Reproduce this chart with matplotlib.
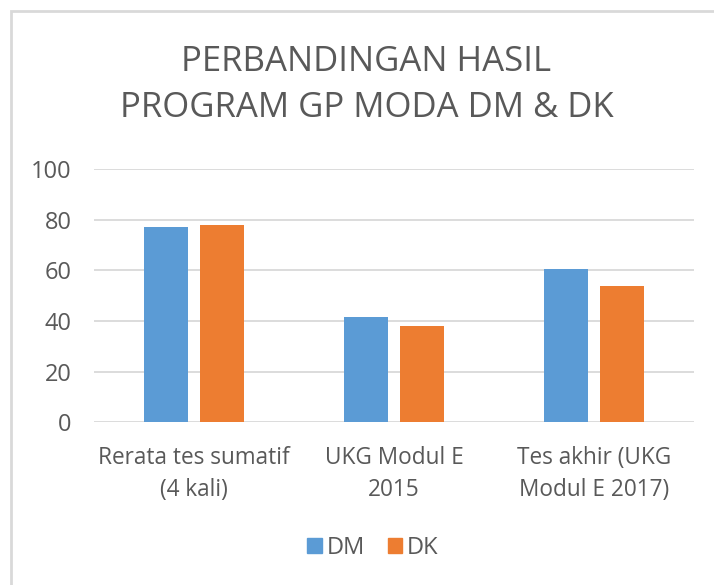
import numpy as np
import matplotlib
matplotlib.use("Agg")
import matplotlib.pyplot as plt
from matplotlib.patches import Rectangle, Patch

plt.rcParams['font.family'] = ['Open Sans', 'DejaVu Sans']

# data
categories = ["Rerata tes sumatif\n(4 kali)", "UKG Modul E\n2015", "Tes akhir (UKG\nModul E 2017)"]
series_names = ["DM", "DK"]
dm_values = [77, 41.7, 60.5]
dk_values = [78, 37.9, 54]
yticks = [0, 20, 40, 60, 80, 100]

blue = "#5B9BD5"
orange = "#ED7D31"
txt = "#595959"
grid = "#D9D9D9"

fig = plt.figure(figsize=(7.14, 5.85), dpi=100)
ax = fig.add_axes([94/714, 1-422.3/585, 600/714, (422.3-169)/585])

x = np.arange(len(categories))
w = 0.2225
ax.bar(x - 0.139, dm_values, w, color=blue, zorder=3)
ax.bar(x + 0.139, dk_values, w, color=orange, zorder=3)

ax.set_xlim(-0.5, len(categories) - 0.5)
ax.set_ylim(0, 100)
ax.set_yticks(yticks)
ax.set_xticks(x)
ax.set_xticklabels(categories, fontsize=16.3, color=txt, linespacing=1.45)
ax.tick_params(axis='y', labelsize=17, colors=txt, length=0, pad=16)
ax.tick_params(axis='x', length=0, pad=17)
ax.yaxis.grid(True, color=grid, linewidth=1.3, zorder=0)
for s in ax.spines.values():
    s.set_visible(False)

fig.text(366.5/714, 1-62/585, "PERBANDINGAN HASIL", ha='center', va='center', fontsize=25, color=txt)
fig.text(366.5/714, 1-108/585, "PROGRAM GP MODA DM & DK", ha='center', va='center', fontsize=25, color=txt)

handles = [Patch(color=blue), Patch(color=orange)]
fig.legend(handles, series_names, loc='center', bbox_to_anchor=(373/714, 1-548/585), ncol=2,
           frameon=False, fontsize=17, labelcolor=txt, handlelength=0.6, handleheight=0.6,
           handletextpad=0.2, columnspacing=1.0)

# outer chart frame
fig.patches.append(Rectangle((11/714, -0.05), 1.2, 1-11/585+0.05, transform=fig.transFigure,
                             fill=False, edgecolor=grid, linewidth=2))

fig.savefig("out.png", dpi=100, facecolor='white')
